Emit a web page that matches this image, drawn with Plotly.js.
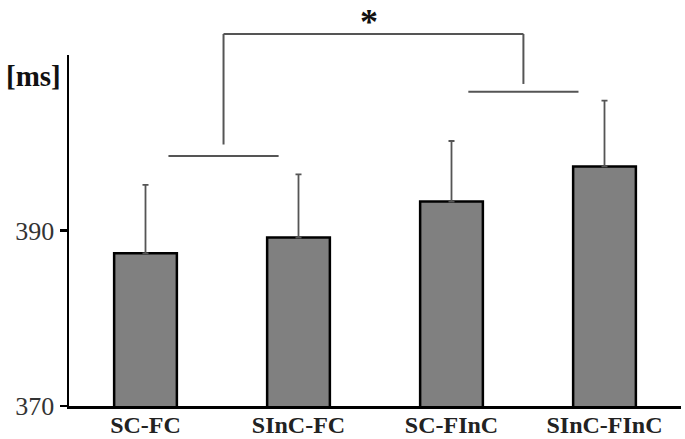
<!DOCTYPE html>
<html><head><meta charset="utf-8">
<script src="https://cdn.plot.ly/plotly-3.0.1.min.js"></script>
<style>body{margin:0;background:#fff}#c{width:685px;height:439px}</style>
</head><body><div id="c"></div>
<script>
var categories = ["SC-FC", "SInC-FC", "SC-FInC", "SInC-FInC"];
var means = [387.4, 389.2, 393.3, 397.3];
var sem = [7.8, 7.2, 6.9, 7.5];
var yTicks = [370, 390];
var yRange = [370, 410];

// significance bracket (data values)
var pairLeft = {x0: 0.15, x1: 0.87, y: 398.5, xv: 0.51};
var pairRight = {x0: 2.11, x1: 2.83, y: 405.8, xv: 2.47};
var bracketTop = 412.4;

function py(v) { return (v - yRange[0]) / (yRange[1] - yRange[0]); }
var lineStyle = {color: '#555555', width: 2};
function seg(x0, y0, x1, y1) {
  return {type: 'line', xref: 'x', yref: 'paper', x0: x0, x1: x1, y0: py(y0), y1: py(y1), line: lineStyle, layer: 'above'};
}
var shapes = [
  seg(pairLeft.x0, pairLeft.y, pairLeft.x1, pairLeft.y),
  seg(pairRight.x0, pairRight.y, pairRight.x1, pairRight.y),
  seg(pairLeft.xv, pairLeft.y + 1.3, pairLeft.xv, bracketTop),
  seg(pairRight.xv, pairRight.y + 0.9, pairRight.xv, bracketTop),
  seg(pairLeft.xv, bracketTop, pairRight.xv, bracketTop)
];

var trace = {
  type: 'bar',
  x: categories,
  y: means,
  width: 0.41,
  marker: {color: '#808080', line: {color: '#000000', width: 2.5}},
  error_y: {type: 'data', symmetric: false, array: sem, arrayminus: sem.map(function(){return 0;}),
            color: '#555555', thickness: 1.8, width: 3},
  hoverinfo: 'none'
};

var serif = 'Liberation Serif, Times New Roman, serif';
var layout = {
  width: 685, height: 439,
  margin: {l: 69, r: 4, t: 55, b: 33},
  paper_bgcolor: '#ffffff', plot_bgcolor: '#ffffff',
  showlegend: false,
  bargap: 0.59,
  xaxis: {
    type: 'category', range: [-0.5, 3.5], showgrid: false, zeroline: false,
    showline: true, linecolor: '#000', linewidth: 2.5, ticks: '', ticklabelstandoff: -4,
    tickfont: {family: serif, size: 24, color: '#222', weight: 'bold'}, fixedrange: true
  },
  yaxis: {
    range: yRange, tickvals: yTicks, ticktext: yTicks.map(String),
    showgrid: false, zeroline: false, showline: true, linecolor: '#000', linewidth: 2.5,
    ticks: 'outside', ticklen: 7, tickwidth: 2.5, tickcolor: '#000',
    tickfont: {family: serif, size: 26, color: '#333'}, fixedrange: true
  },
  shapes: shapes,
  annotations: [
    {xref: 'paper', yref: 'paper', x: 0, y: py(407.6), xanchor: 'right', yanchor: 'middle', xshift: -6,
     text: '<b>[ms]</b>', showarrow: false, font: {family: serif, size: 29, color: '#111'}},
    {xref: 'paper', yref: 'paper', x: 0.49, y: 1, yshift: 55, xanchor: 'center', yanchor: 'top',
     text: '<b>*</b>', showarrow: false, font: {family: serif, size: 36, color: '#111'}}
  ]
};
Plotly.newPlot('c', [trace], layout, {displayModeBar: false, staticPlot: true});
</script>
</body></html>
